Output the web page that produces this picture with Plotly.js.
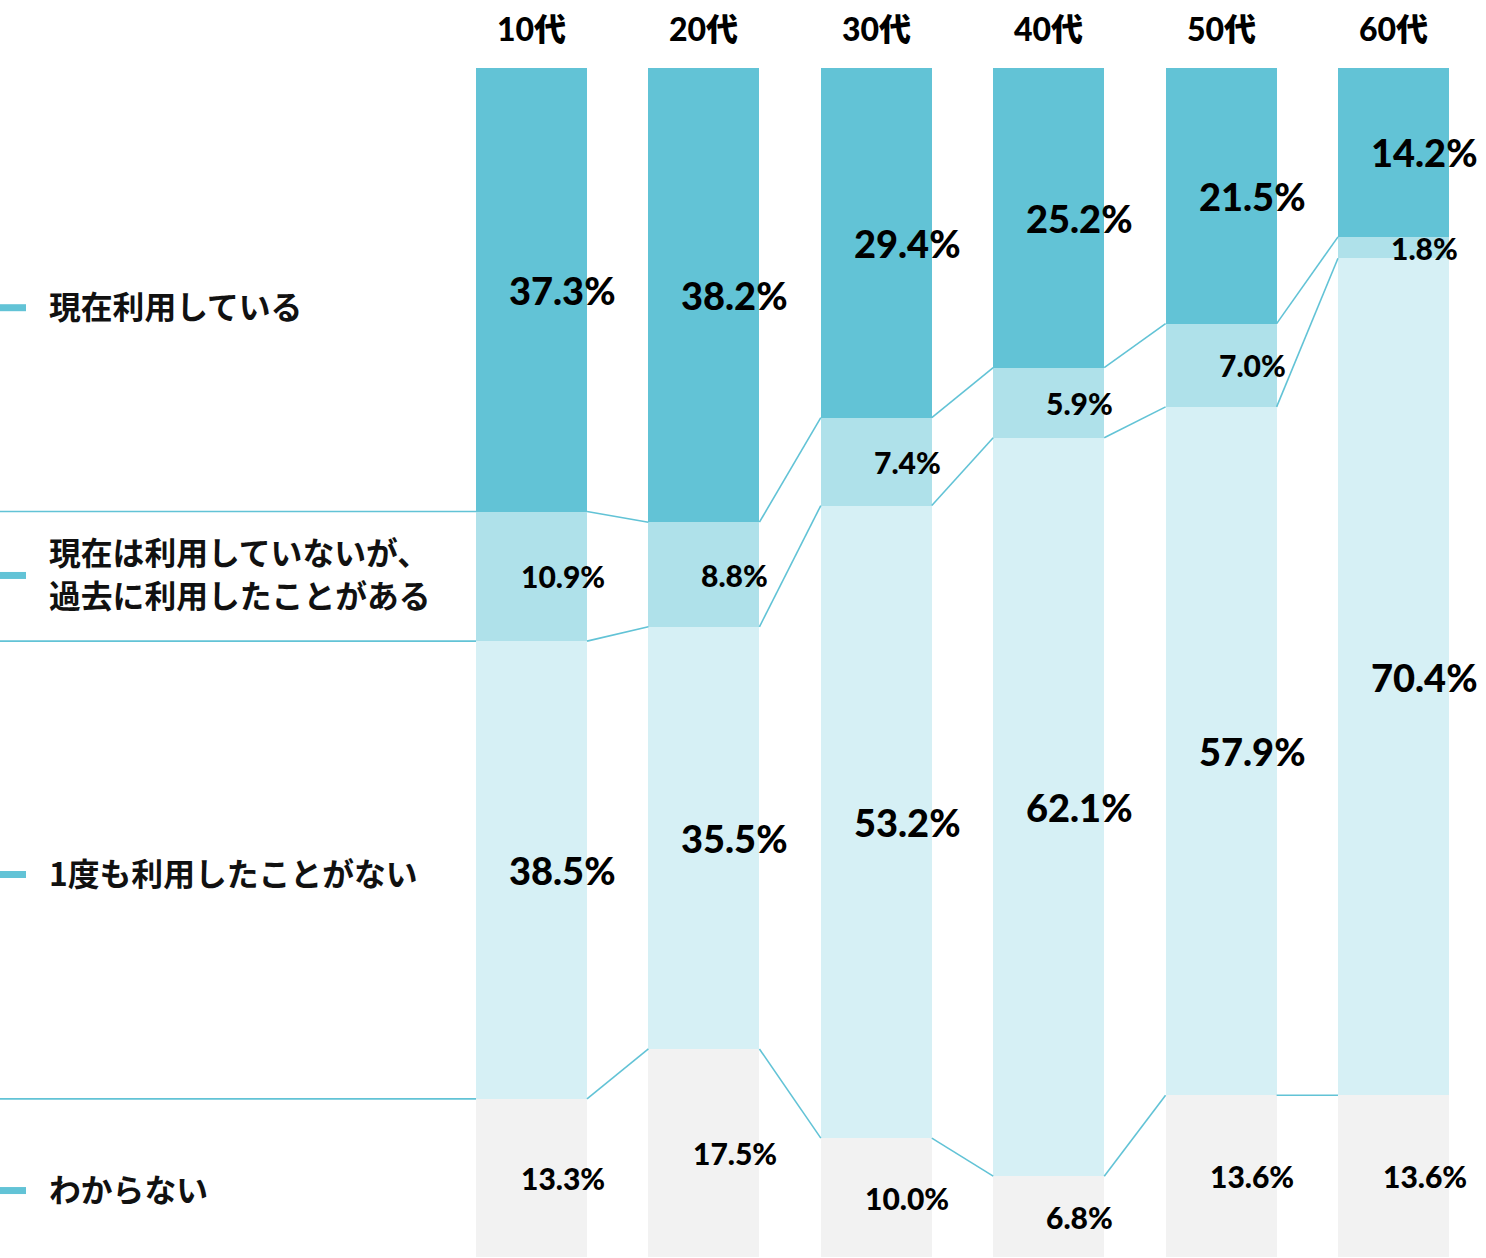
<!DOCTYPE html>
<html><head><meta charset="utf-8">
<script src="https://cdn.plot.ly/plotly-3.0.1.min.js"></script>
<style>html,body{margin:0;padding:0;background:#fff}#chart{width:1486px;height:1258px}</style>
</head><body><div id="chart"></div>
<script>
// ---- data ----
const ageGroups = ['10代', '20代', '30代', '40代', '50代', '60代'];
const seriesNames = ['現在利用している', '現在は利用していないが、<br>過去に利用したことがある', '1度も利用したことがない', 'わからない'];
const usingNow   = [37.3, 38.2, 29.4, 25.2, 21.5, 14.2];
const usedBefore = [10.9,  8.8,  7.4,  5.9,  7.0,  1.8];
const neverUsed  = [38.5, 35.5, 53.2, 62.1, 57.9, 70.4];
const unknown    = [13.3, 17.5, 10.0,  6.8, 13.6, 13.6];

// ---- styles ----
const colors = ['#62C3D6', '#AFE1EA', '#D6F0F5', '#F2F2F2'];
const lineColor = '#62C3D6';
const bigLabel = [true, false, true, false];
const legendY = [0.8005, 0.5753, 0.3238, 0.0580];
const legendLineGap = 43; // px between lines of a wrapped legend label
const barWidth = 0.644;
const xRange = [-3.083, 5.5365];
const numFont = 'Lato, "Noto Sans CJK JP", sans-serif';
const jpFont = '"Noto Sans CJK JP", "Noto Sans", sans-serif';

const series = [usingNow, usedBefore, neverUsed, unknown];
const xs = ageGroups.map((_, i) => i);
const hw = barWidth / 2;

const traces = [];
series.forEach((vals, s) => {
  traces.push({
    type: 'bar', x: xs, y: vals, width: barWidth, name: seriesNames[s].replace('<br>', ''),
    marker: {color: colors[s], line: {width: 0}}, hoverinfo: 'skip'
  });
});

// cumulative boundaries
const cum = [];
let run = xs.map(() => 0);
series.forEach(vals => {
  run = run.map((r, i) => r + vals[i]);
  cum.push(run.slice());
});

// connector lines for the three inner boundaries
for (let k = 0; k < 3; k++) {
  const b = cum[k];
  const lx = [xRange[0], -hw, null];
  const ly = [b[0], b[0], null];
  for (let i = 0; i < xs.length - 1; i++) {
    lx.push(i + hw, i + 1 - hw, null);
    ly.push(b[i], b[i + 1], null);
  }
  traces.push({type: 'scatter', mode: 'lines', x: lx, y: ly,
    line: {color: lineColor, width: 1.6}, hoverinfo: 'skip', cliponaxis: false});
}

const annotations = [];
// value labels
series.forEach((vals, s) => {
  vals.forEach((v, i) => {
    const start = s === 0 ? 0 : cum[s - 1][i];
    annotations.push({
      x: i, y: start + v / 2, xref: 'x', yref: 'y', xshift: 31,
      text: v.toFixed(1) + '%', showarrow: false,
      xanchor: 'center', yanchor: 'middle',
      font: {family: numFont, size: bigLabel[s] ? 38 : 30, color: '#000', weight: 900}
    });
  });
});
// category labels on top
ageGroups.forEach((g, i) => {
  annotations.push({
    x: i, y: 1.0336, xref: 'x', yref: 'paper', text: g, showarrow: false,
    xanchor: 'center', yanchor: 'middle',
    font: {family: numFont, size: 32, color: '#000', weight: 900}
  });
});
// legend labels
const shapes = [];
seriesNames.forEach((n, s) => {
  const lines = n.split('<br>');
  lines.forEach((ln, j) => {
    const off = (j - (lines.length - 1) / 2) * legendLineGap;
    annotations.push({
      x: 47 / 1486, y: legendY[s], xref: 'paper', yref: 'paper', yshift: -off,
      text: ln, showarrow: false,
      xanchor: 'left', yanchor: 'middle', align: 'left',
      font: {family: jpFont, size: 31.8, color: '#111', weight: 700}
    });
  });
  shapes.push({
    type: 'rect', xref: 'paper', yref: 'paper',
    xsizemode: 'pixel', xanchor: 0, x0: 0, x1: 26,
    ysizemode: 'pixel', yanchor: legendY[s], y0: -6, y1: 1,
    fillcolor: lineColor, line: {width: 0}
  });
});

const layout = {
  width: 1486, height: 1258,
  margin: {l: 0, r: 0, t: 68, b: 1, pad: 0},
  barmode: 'stack', showlegend: false,
  paper_bgcolor: '#fff', plot_bgcolor: '#fff',
  xaxis: {range: xRange, visible: false, fixedrange: true},
  yaxis: {range: [100, 0], visible: false, fixedrange: true},
  annotations: annotations, shapes: shapes
};

Plotly.newPlot('chart', traces, layout, {displayModeBar: false, staticPlot: true});
</script>
</body></html>
